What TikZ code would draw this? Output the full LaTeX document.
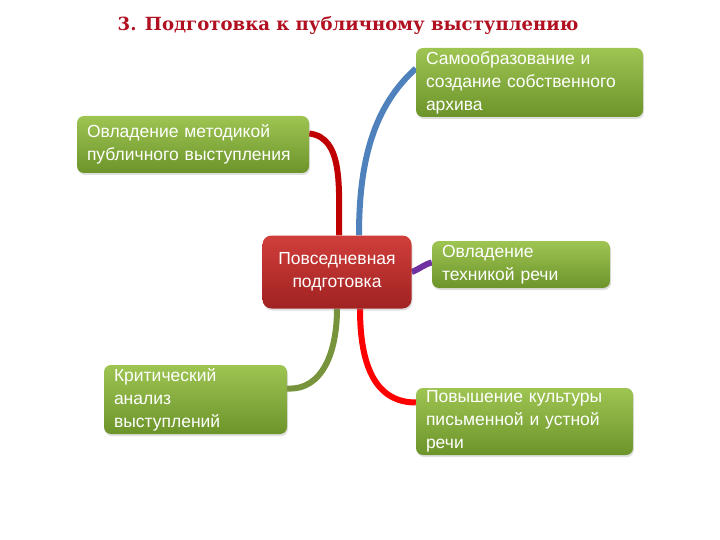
\documentclass[tikz,border=0pt]{standalone}
\usepackage{fontspec}
\setmainfont{Liberation Sans}
\newfontfamily\titlefont{DejaVu Serif}
\usetikzlibrary{positioning,shadows,backgrounds}
\definecolor{titlered}{RGB}{176,16,32}
\definecolor{greentop}{RGB}{158,196,82}
\definecolor{greenbot}{RGB}{108,148,42}
\definecolor{redtop}{RGB}{208,62,58}
\definecolor{redbot}{RGB}{160,34,34}
\definecolor{linedarkred}{RGB}{192,0,0}
\definecolor{lineblue}{RGB}{79,129,189}
\definecolor{linepurple}{RGB}{112,48,160}
\definecolor{lineolive}{RGB}{119,147,60}
\definecolor{linered}{RGB}{255,0,0}

\begin{document}
\begin{tikzpicture}[x=1pt,y=1pt,
box/.style={rectangle, rounded corners=7pt, top color=greentop, bottom color=greenbot, text=white, align=left, inner xsep=10pt, inner ysep=2pt, font=\fontsize{17.5}{23}\selectfont, drop shadow={opacity=0.25,shadow xshift=1pt,shadow yshift=-2pt}},
hub/.style={rectangle, rounded corners=9pt, top color=redtop, bottom color=redbot, text=white, align=center, font=\fontsize{17.5}{23}\selectfont, drop shadow={opacity=0.25,shadow xshift=1pt,shadow yshift=-2pt}},
branch/.style={line width=6pt}] % boxes of the mind map, positions in pixels of the slide
\useasboundingbox (0,0) rectangle (720,-540);

\node[font=\titlefont\bfseries\fontsize{18.1}{20}\selectfont, text=titlered](title) at (348,-25){3. Подготовка к публичному выступлению};

\node[hub, minimum width=149pt, minimum height=73pt](pov) at (337,-272){Повседневная\\подготовка};% center of the map
\node[box, text width=207pt, minimum height=69pt](samo) at (529.5,-82.5){Самообразование и\\создание собственного\\архива};
\node[box, text width=212pt, minimum height=57pt](meth) at (193,-144.5){Овладение методикой\\публичного выступления};
\node[box, text width=158pt, minimum height=47pt](tech) at (521,-264.5){Овладение\\техникой речи};
\node[box, text width=163pt, minimum height=69pt](krit) at (195.5,-399.5){Критический\\анализ\\выступлений};
\node[box, text width=197pt, minimum height=67pt](kult) at (524.5,-421.5){Повышение культуры\\письменной и устной\\речи};

% branches go behind the boxes
\begin{scope}[on background layer]
\draw[branch, linedarkred]([xshift=2pt]pov.north) .. controls +(0,50) and +(34,-4) .. ([yshift=11pt]meth.east);
\draw[branch, lineblue]([xshift=22pt]pov.north) .. controls +(0,75) and +(-42,-38) .. ([yshift=14pt]samo.west);
\draw[branch, linepurple](pov.east) .. controls +(8,3) and +(-8,-2) .. ([yshift=2pt]tech.west);
\draw[branch, lineolive](pov.south) .. controls +(0,-42) and +(36,-2) .. ([yshift=11pt]krit.east);
\draw[branch, linered]([xshift=23pt]pov.south) .. controls +(0,-48) and +(-45,0) .. ([yshift=19pt]kult.west);
\end{scope}

\end{tikzpicture}
\end{document}
